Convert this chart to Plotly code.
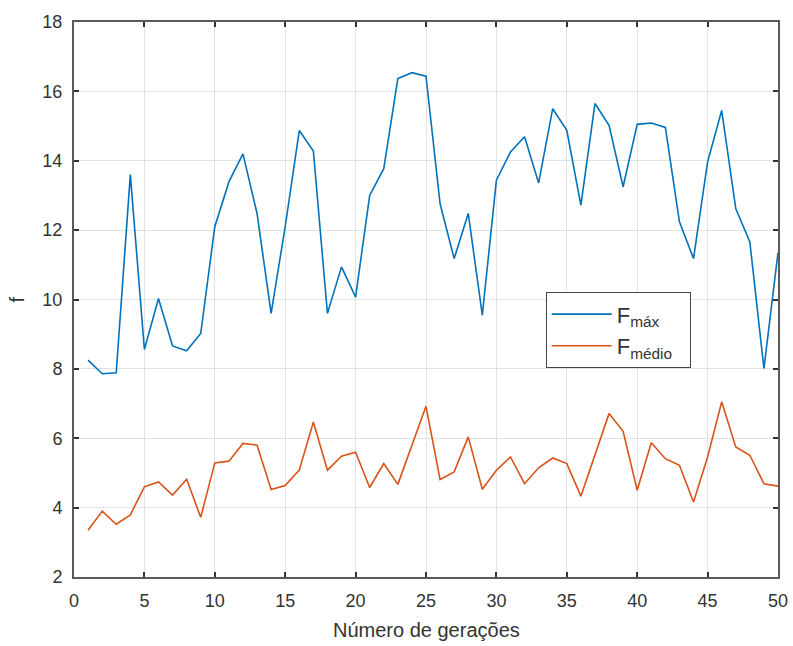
import plotly.graph_objects as go

generations = list(range(1, 51))
f_max = [8.25, 7.86, 7.89, 13.6, 8.56, 10.03, 8.66, 8.52, 9.02, 12.1,
         13.39, 14.2, 12.48, 9.6, 12.1, 14.87, 14.28, 9.6, 10.94, 10.07,
         13.0, 13.77, 16.37, 16.54, 16.44, 12.76, 11.18, 12.48, 9.55, 13.44,
         14.25, 14.69, 13.36, 15.5, 14.88, 12.72, 15.65, 15.02, 13.25, 15.05,
         15.09, 14.96, 12.24, 11.18, 13.97, 15.45, 12.62, 11.66, 8.01, 11.35]
f_medio = [3.35, 3.9, 3.52, 3.79, 4.6, 4.74, 4.36, 4.82, 3.72, 5.29,
           5.34, 5.85, 5.8, 4.52, 4.64, 5.08, 6.47, 5.08, 5.48, 5.6,
           4.58, 5.27, 4.67, 5.8, 6.92, 4.81, 5.03, 6.04, 4.53, 5.08,
           5.46, 4.69, 5.15, 5.43, 5.27, 4.33, 5.51, 6.71, 6.2, 4.5,
           5.87, 5.41, 5.22, 4.16, 5.46, 7.05, 5.75, 5.51, 4.69, 4.62]
x_ticks = [0, 5, 10, 15, 20, 25, 30, 35, 40, 45, 50]
y_ticks = [2, 4, 6, 8, 10, 12, 14, 16, 18]
x_title = "Número de gerações"
y_title = "f"

FONT = "Liberation Sans, Arial, sans-serif"

fig = go.Figure()
fig.add_trace(go.Scatter(x=generations, y=f_max, mode="lines",
                         name="F<sub>máx</sub>  ",
                         line=dict(color="#0072BD", width=1.6)))
fig.add_trace(go.Scatter(x=generations, y=f_medio, mode="lines",
                         name="F<sub>médio</sub>  ",
                         line=dict(color="#D95319", width=1.6)))

axis_common = dict(
    showline=True, linecolor="#5a5a5a", linewidth=2, mirror="ticks",
    ticks="inside", ticklen=5, tickwidth=1.5, tickcolor="#333333",
    showgrid=True, gridcolor="#e3e3e3", gridwidth=1, automargin=False,
    zeroline=False, tickfont=dict(family=FONT, size=18, color="#333333"),
)

fig.update_layout(
    width=793, height=646,
    margin=dict(l=74, r=15, t=22, b=69, pad=0),
    paper_bgcolor="white", plot_bgcolor="white",
    font=dict(family=FONT, color="#333333"),
    showlegend=True,
    legend=dict(x=0.670, y=0.513, xanchor="left", yanchor="top",
                bgcolor="white", bordercolor="#444444", borderwidth=1,
                font=dict(family=FONT, size=22, color="#333333"),
                tracegroupgap=0, itemwidth=60),
    xaxis=dict(range=[0, 50], tickvals=x_ticks, ticklabelstandoff=6, **axis_common),
    yaxis=dict(range=[2, 18], tickvals=y_ticks, ticklabelstandoff=6, **axis_common),
    annotations=[
        dict(text=x_title, xref="paper", yref="paper", x=0.5, y=-0.096,
             xanchor="center", yanchor="middle", showarrow=False,
             font=dict(family=FONT, size=20, color="#333333")),
        dict(text=y_title, xref="paper", yref="paper", x=-0.081, y=0.5,
             xanchor="center", yanchor="middle", showarrow=False, textangle=-90,
             font=dict(family=FONT, size=20, color="#333333")),
    ],
)

fig.write_html("out.html")
